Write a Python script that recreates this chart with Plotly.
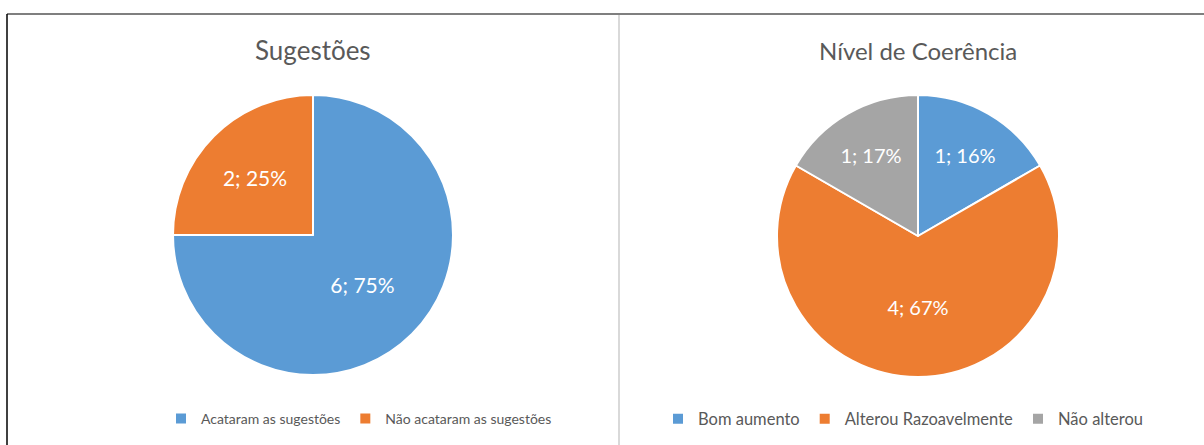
import plotly.graph_objects as go

# ---- data ----
sug_labels = ["Acataram as sugestões", "Não acataram as sugestões"]
sug_values = [6, 2]
sug_pct = ["75%", "25%"]

coe_labels = ["Bom aumento", "Alterou Razoavelmente", "Não alterou"]
coe_values = [1, 4, 1]
coe_pct = ["16%", "67%", "17%"]

titles = ["Sugestões", "Nível de Coerência"]

BLUE, ORANGE, GRAY = "#5B9BD5", "#ED7D31", "#A5A5A5"
FONT = "Lato, 'Open Sans', sans-serif"
W, H = 1204, 445

fig = go.Figure()

def dom_x(x0, x1):
    return [x0 / W, x1 / W]

def dom_y(top, bottom):
    return [1 - bottom / H, 1 - top / H]

fig.add_trace(go.Pie(
    labels=sug_labels, values=sug_values, customdata=sug_pct,
    texttemplate="%{value}; %{customdata}", textinfo="text",
    textposition="inside", insidetextorientation="horizontal",
    textfont=dict(family=FONT, size=21, color="white"),
    marker=dict(colors=[BLUE, ORANGE], line=dict(color="white", width=2)),
    sort=False, direction="clockwise", rotation=0,
    domain=dict(x=dom_x(173, 453), y=dom_y(95, 375)),
    legend="legend", hoverinfo="label+value+percent",
))

fig.add_trace(go.Pie(
    labels=coe_labels, values=coe_values, customdata=coe_pct,
    texttemplate="%{value}; %{customdata}", textinfo="text",
    textposition="inside", insidetextorientation="horizontal",
    textfont=dict(family=FONT, size=20, color="white"),
    marker=dict(colors=[BLUE, ORANGE, GRAY], line=dict(color="white", width=2)),
    sort=False, direction="clockwise", rotation=0,
    domain=dict(x=dom_x(777, 1059), y=dom_y(95, 377)),
    legend="legend2", hoverinfo="label+value+percent",
))

annotations = [
    dict(text=titles[0], x=313 / W, y=1 - 50 / H, xref="paper", yref="paper",
         xanchor="center", yanchor="middle",
         showarrow=False, font=dict(family=FONT, size=26, color="#595959")),
    dict(text=titles[1], x=918 / W, y=1 - 50 / H, xref="paper", yref="paper",
         xanchor="center", yanchor="middle",
         showarrow=False, font=dict(family=FONT, size=24, color="#595959")),
]

shapes = [
    dict(type="line", xref="paper", yref="paper", x0=7 / W, x1=1, y0=1 - 14 / H, y1=1 - 14 / H,
         line=dict(color="#7f7f7f", width=2)),
    dict(type="line", xref="paper", yref="paper", x0=7 / W, x1=7 / W, y0=0, y1=1 - 14 / H,
         line=dict(color="#000000", width=1.5)),
    dict(type="line", xref="paper", yref="paper", x0=619 / W, x1=619 / W, y0=0, y1=1 - 15 / H,
         line=dict(color="#d9d9d9", width=2)),
]

def legend_cfg(x, size):
    return dict(orientation="h", font=dict(family=FONT, size=size, color="#595959"),
                bgcolor="rgba(0,0,0,0)", itemwidth=30, xanchor="left", yanchor="middle",
                tracegroupgap=0, x=x, y=1 - 419 / H)

fig.update_layout(
    width=W, height=H,
    margin=dict(l=0, r=0, t=0, b=0),
    paper_bgcolor="white", plot_bgcolor="white",
    annotations=annotations, shapes=shapes,
    legend=legend_cfg(161 / W, 14),
    legend2=legend_cfg(658 / W, 16.5),
    showlegend=True,
)

fig.write_html("out.html")
